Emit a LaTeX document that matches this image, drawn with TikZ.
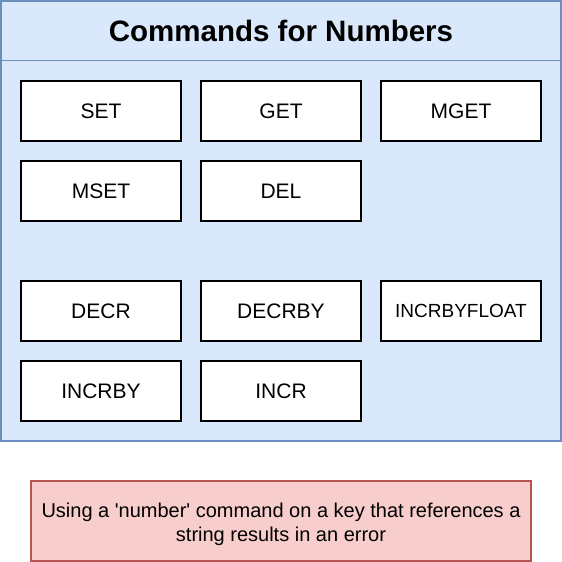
\documentclass[tikz,border=0pt]{standalone}
\usepackage{fontspec}
\setmainfont{Liberation Sans}
\definecolor{panelfill}{HTML}{DAE8FC}
\definecolor{panelline}{HTML}{6C8EBF}
\definecolor{notefill}{HTML}{F8CECC}
\definecolor{noteline}{HTML}{B85450}
\begin{document}
\begin{tikzpicture}[x=1pt,y=-1pt,
  panel/.style={draw=panelline, fill=panelfill, line width=1.5pt,
    minimum width=560pt, minimum height=440pt, inner sep=0pt},
  title/.style={font=\fontsize{29.5}{34}\selectfont\bfseries, inner sep=0pt},
  cmd/.style={draw=black, fill=white, line width=2pt,
    minimum width=160pt, minimum height=60pt, inner sep=0pt,
    font=\fontsize{21}{25}\selectfont},
  smallcmd/.style={cmd, font=\fontsize{19}{23}\selectfont},
  note/.style={draw=noteline, fill=notefill, line width=1.5pt,
    minimum width=500pt, minimum height=80pt, inner sep=0pt},
  notetext/.style={inner sep=0pt, align=center,
    font=\fontsize{20}{24}\selectfont}]
\useasboundingbox (0,0) rectangle (562,562);

% container with its header strip
\node[panel] (panel) at (281,221) {};
\draw[draw=panelline, line width=1.5pt]
  ([yshift=-60pt]panel.north west) -- ([yshift=-60pt]panel.north east);
\node[title] (heading) at (281,31) {Commands for Numbers};

% command boxes
\node[cmd] (set)    at (101,111) {SET};
\node[cmd] (get)    at (281,111) {GET};
\node[cmd] (mget)   at (461,111) {MGET};
\node[cmd] (mset)   at (101,191) {MSET};
\node[cmd] (del)    at (281,191) {DEL};
\node[cmd] (decr)   at (101,311) {DECR};
\node[cmd] (decrby) at (281,311) {DECRBY};
\node[smallcmd] (incrbyfloat) at (461,311) {\raisebox{-2pt}{INCRBYFLOAT}};
\node[cmd] (incrby) at (101,391) {INCRBY};
\node[cmd] (incr)   at (281,391) {INCR};

% warning note
\node[note] (warning) at (281,521) {};
\node[notetext] (warningtext) at ([yshift=-3pt]warning.center)
  {Using a \textquotesingle number\textquotesingle{} command on a key that references a\\
   string results in an error};
\end{tikzpicture}
\end{document}
